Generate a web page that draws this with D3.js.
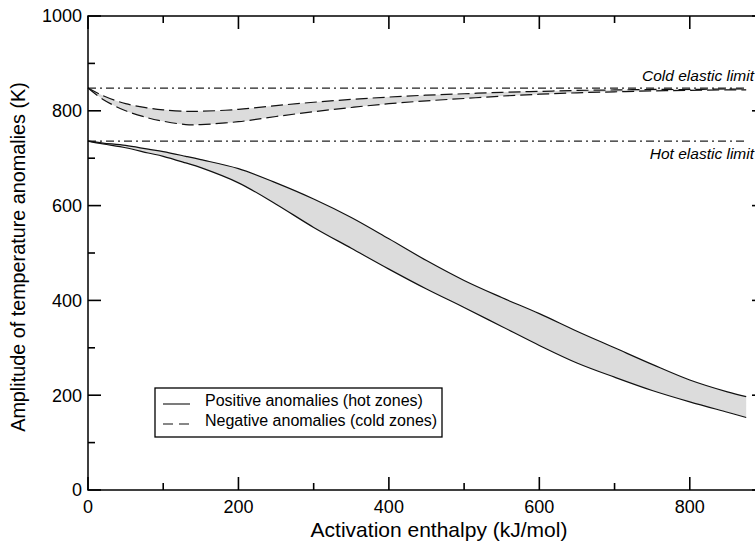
<!DOCTYPE html>
<html>
<head>
<meta charset="utf-8">
<script src="https://cdn.jsdelivr.net/npm/d3@7"></script>
<style>
  body { margin: 0; background: #fff; }
  svg { display: block; font-family: "Liberation Sans", Arial, Helvetica, sans-serif; }
</style>
</head>
<body>
<svg width="755" height="542"></svg>
<script>
const svg = d3.select("svg");

// ====== Data ======
const enthalpy = [0, 20, 50, 80, 100, 130, 150, 200, 250, 300, 350, 400, 450, 500, 550, 600, 650, 700, 750, 800, 850, 875];
const hotUpper = [736, 732, 727, 719, 714, 704, 697, 678, 648, 614, 575, 530, 484, 442, 406, 372, 335, 300, 265, 232, 207, 197];
const hotLower = [736, 730, 722, 711, 704, 690, 680, 648, 603, 554, 510, 466, 424, 385, 345, 305, 268, 238, 210, 186, 164, 153];
const coldUpper = [848, 832, 815, 806, 802, 799, 799, 803, 811, 818, 824, 829, 833, 836, 839, 841, 843, 844, 845, 845, 846, 846];
const coldLower = [848, 824, 800, 785, 778, 771, 771, 777, 788, 798, 807, 815, 821, 826, 831, 835, 838, 840, 842, 843, 844, 844];

const limits = [
    {label: "Cold elastic limit", value: 848},
    {label: "Hot elastic limit", value: 736}
];
const limitEnd = 875;

const xMajor = [0, 200, 400, 600, 800];
const xMinor = [100, 300, 500, 700];
const yMajor = [0, 200, 400, 600, 800, 1000];
const yMinor = [100, 300, 500, 700, 900];

// ====== Scales ======
const plotLeft = 88, plotRight = 765, plotTop = 16, plotBottom = 490;
const x = d3.scaleLinear().domain([0, 900]).range([plotLeft, plotRight]);
const y = d3.scaleLinear().domain([0, 1000]).range([plotBottom, plotTop]);

const hot = enthalpy.map((e, i) => ({x: e, hi: hotUpper[i], lo: hotLower[i]}));
const cold = enthalpy.map((e, i) => ({x: e, hi: coldUpper[i], lo: coldLower[i]}));

const curve = d3.curveCatmullRom.alpha(0.5);

const area = d3.area()
    .x(d => x(d.x))
    .y0(d => y(d.lo))
    .y1(d => y(d.hi))
    .curve(curve);

const lineHi = d3.line().x(d => x(d.x)).y(d => y(d.hi)).curve(curve);
const lineLo = d3.line().x(d => x(d.x)).y(d => y(d.lo)).curve(curve);

// ====== Bands ======
svg.append("path").datum(hot).attr("d", area).attr("fill", "#dcdcdc");
svg.append("path").datum(cold).attr("d", area).attr("fill", "#dcdcdc");

// ====== Elastic limits ======
svg.append("g")
    .selectAll("line")
    .data(limits)
    .enter().append("line")
        .attr("x1", x(0))
        .attr("x2", x(limitEnd))
        .attr("y1", d => y(d.value))
        .attr("y2", d => y(d.value))
        .attr("stroke", "#222")
        .attr("stroke-width", 1.2)
        .attr("stroke-dasharray", "8,4,2,4");

// ====== Curves ======
[lineHi, lineLo].forEach(fn => {
    svg.append("path").datum(hot)
        .attr("d", fn)
        .attr("fill", "none")
        .attr("stroke", "#111")
        .attr("stroke-width", 1.2);
    svg.append("path").datum(cold)
        .attr("d", fn)
        .attr("fill", "none")
        .attr("stroke", "#111")
        .attr("stroke-width", 1.2)
        .attr("stroke-dasharray", "12,5");
});

// ====== Limit labels ======
svg.append("text")
    .attr("x", 754).attr("y", y(848) - 7)
    .attr("text-anchor", "end")
    .attr("font-style", "italic")
    .attr("font-size", 15.5)
    .text(limits[0].label);
svg.append("text")
    .attr("x", 754).attr("y", y(736) + 18)
    .attr("text-anchor", "end")
    .attr("font-style", "italic")
    .attr("font-size", 15.5)
    .text(limits[1].label);

// ====== Ticks (inward, on all four sides) ======
const ticks = svg.append("g").attr("stroke", "#000").attr("stroke-width", 1.6);

function xTicks(values, len) {
    values.forEach(v => {
        ticks.append("line").attr("x1", x(v)).attr("x2", x(v))
            .attr("y1", plotBottom).attr("y2", plotBottom - len);
        ticks.append("line").attr("x1", x(v)).attr("x2", x(v))
            .attr("y1", plotTop).attr("y2", plotTop + len);
    });
}
function yTicks(values, len) {
    values.forEach(v => {
        ticks.append("line").attr("y1", y(v)).attr("y2", y(v))
            .attr("x1", plotLeft).attr("x2", plotLeft + len);
        ticks.append("line").attr("y1", y(v)).attr("y2", y(v))
            .attr("x1", plotRight).attr("x2", plotRight - len);
    });
}
xTicks(xMajor, 13);
xTicks(xMinor, 7);
yTicks(yMajor, 13);
yTicks(yMinor, 7);

// tick labels
svg.append("g")
    .selectAll("text")
    .data(xMajor)
    .enter().append("text")
        .attr("x", d => x(d))
        .attr("y", plotBottom + 23)
        .attr("text-anchor", "middle")
        .attr("font-size", 18)
        .text(d => d);

svg.append("g")
    .selectAll("text")
    .data(yMajor)
    .enter().append("text")
        .attr("x", plotLeft - 6)
        .attr("y", d => y(d))
        .attr("dy", "0.35em")
        .attr("text-anchor", "end")
        .attr("font-size", 18)
        .text(d => d);

// frame
svg.append("rect")
    .attr("x", plotLeft).attr("y", plotTop)
    .attr("width", plotRight - plotLeft).attr("height", plotBottom - plotTop)
    .attr("fill", "none")
    .attr("stroke", "#000")
    .attr("stroke-width", 1.5);

// ====== Axis titles ======
svg.append("text")
    .attr("x", 439).attr("y", 537)
    .attr("text-anchor", "middle")
    .attr("font-size", 21)
    .text("Activation enthalpy (kJ/mol)");

svg.append("text")
    .attr("transform", "translate(25,257) rotate(-90)")
    .attr("text-anchor", "middle")
    .attr("font-size", 19.8)
    .text("Amplitude of temperature anomalies (K)");

// ====== Legend ======
const legend = svg.append("g");
legend.append("rect")
    .attr("x", 155).attr("y", 388)
    .attr("width", 287).attr("height", 49)
    .attr("fill", "#fff")
    .attr("stroke", "#000")
    .attr("stroke-width", 1.3);

const legendItems = [
    {label: "Positive anomalies (hot zones)", dash: null},
    {label: "Negative anomalies (cold zones)", dash: "10,6"}
];
legendItems.forEach((d, i) => {
    const ly = 404 + i * 20;
    legend.append("line")
        .attr("x1", 163).attr("x2", 190)
        .attr("y1", ly).attr("y2", ly)
        .attr("stroke", "#111")
        .attr("stroke-width", 1.1)
        .attr("stroke-dasharray", d.dash);
    legend.append("text")
        .attr("x", 205).attr("y", ly + 2)
        .attr("font-size", 16)
        .text(d.label);
});
</script>
</body>
</html>
